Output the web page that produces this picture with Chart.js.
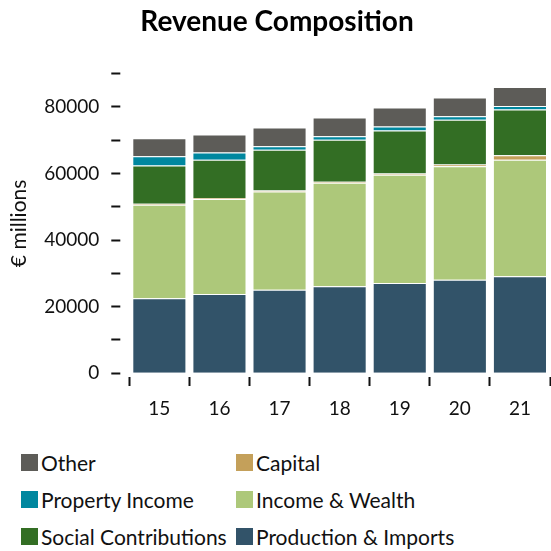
<!DOCTYPE html>
<html>
<head>
<meta charset="utf-8">
<script src="https://cdn.jsdelivr.net/npm/chart.js@4/dist/chart.umd.min.js"></script>
<style>
    html, body { margin: 0; padding: 0; background: #fff; }
    #app { position: relative; width: 551px; height: 551px; font-family: Lato, sans-serif; }
    #chartBox { position: absolute; left: 0; top: 0; width: 551px; height: 437px; }
    .lg-item { position: absolute; display: flex; align-items: center; font-size: 21px; color: #111; white-space: nowrap; }
    .lg-box { width: 17px; height: 17px; margin-right: 3px; }
</style>
</head>
<body>
<div id="app">
    <div id="chartBox"><canvas id="revChart"></canvas></div>
    <div id="legend"></div>
</div>
<script>
// 数据
var years = ['15', '16', '17', '18', '19', '20', '21']
var production = [22500, 23800, 25100, 26100, 27100, 28100, 29100]
var incomeWealth = [28100, 28500, 29500, 31100, 32500, 34100, 35000]
var capital = [300, 300, 300, 300, 400, 500, 1400]
var social = [11500, 11500, 12200, 12600, 12900, 13400, 13700]
var property = [2800, 2200, 1100, 1100, 1200, 1100, 1100]
var other = [5400, 5400, 5600, 5600, 5700, 5600, 5700]
var yMax = 90000
var yStep = 10000
var yLabelStep = 20000

var series = [
    {label: 'Production & Imports', data: production, color: '#325369'},
    {label: 'Income & Wealth', data: incomeWealth, color: '#adc87a'},
    {label: 'Capital', data: capital, color: '#c4a05a'},
    {label: 'Social Contributions', data: social, color: '#336e24'},
    {label: 'Property Income', data: property, color: '#00879f'},
    {label: 'Other', data: other, color: '#5d5c58'}
]

var ink = '#111'
var ctx = document.getElementById('revChart')
var revChart = new Chart(ctx, {
    type: 'bar',
    data: {
        labels: years,
        datasets: series.map(s => ({
            label: s.label,
            data: s.data,
            backgroundColor: s.color,
            borderColor: 'rgba(255,255,255,0.35)',
            borderWidth: 1,
            categoryPercentage: 1,
            barPercentage: 0.9
        }))
    },
    options: {
        responsive: true,
        maintainAspectRatio: false,
        animation: false,
        layout: {padding: {left: 4, right: 1, bottom: 6, top: 0}},
        plugins: {
            legend: {display: false},
            tooltip: {enabled: false},
            title: {
                display: true,
                text: 'Revenue Composition',
                color: '#000',
                font: {family: 'Lato', size: 28, weight: 'bold'},
                padding: {top: 5, bottom: 35}
            }
        },
        scales: {
            x: {
                stacked: true,
                border: {display: false},
                grid: {
                    display: true,
                    offset: true,
                    drawOnChartArea: false,
                    drawTicks: true,
                    tickLength: 13,
                    tickColor: ink,
                    tickWidth: 2,
                    tickBorderDash: [0, 4, 9, 100]
                },
                ticks: {color: ink, padding: 11, font: {family: 'Lato', size: 19}}
            },
            y: {
                stacked: true,
                min: 0,
                max: yMax,
                border: {display: false},
                grid: {
                    drawOnChartArea: false,
                    drawTicks: true,
                    tickLength: 18,
                    tickColor: ink,
                    tickWidth: 2,
                    tickBorderDash: [9, 100]
                },
                ticks: {
                    stepSize: yStep,
                    color: ink,
                    padding: 12,
                    font: {family: 'Lato', size: 19},
                    callback: v => (v % yLabelStep === 0 ? String(v) : '')
                },
                title: {
                    display: true,
                    text: '€ millions',
                    color: ink,
                    font: {family: 'Lato', size: 21},
                    padding: {top: 3, bottom: 0}
                }
            }
        }
    }
})

//图例（两列，按堆叠倒序）
var legendEl = document.getElementById('legend')
var legendCols = [21, 236]
var legendRows = [454, 491, 528]
revChart.data.datasets.slice().reverse().forEach((ds, i) => {
    var col = Math.floor(i / 3)
    var row = i % 3
    var item = document.createElement('div')
    item.className = 'lg-item'
    item.style.left = legendCols[col] + 'px'
    item.style.top = (legendRows[row] - 4) + 'px'
    item.innerHTML = `<span class="lg-box" style="background:${ds.backgroundColor}"></span><span>${ds.label}</span>`
    legendEl.appendChild(item)
})
</script>
</body>
</html>
